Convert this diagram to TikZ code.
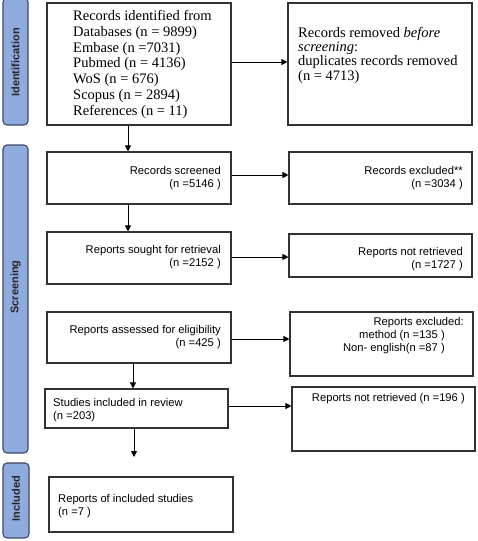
\documentclass[tikz,border=0pt]{standalone}
\usepackage{fontspec}
\setmainfont{Liberation Serif}
\setsansfont{Liberation Sans}
\usetikzlibrary{arrows.meta}
\definecolor{barfill}{RGB}{143,170,220}
\definecolor{barline}{RGB}{60,72,100}
\tikzset{
  box/.style={draw=black!80, line width=1.1pt, rectangle, inner sep=0pt},
  sidebar/.style={draw=barline, line width=1.1pt, fill=barfill, rounded corners=4pt, inner sep=0pt},
  barlabel/.style={font=\sffamily\bfseries\fontsize{11}{13}\selectfont, rotate=90, text=black!85},
  serif/.style={font=\rmfamily\fontsize{14.5}{15.7}\selectfont, inner sep=0pt, align=left},
  sans/.style={font=\sffamily\fontsize{11.2}{13}\selectfont, inner sep=0pt},
  arr/.style={draw=black, line width=1pt, -{Triangle[length=6pt,width=6pt]}},
}
\begin{document}
\begin{tikzpicture}[x=1pt,y=-1pt]
\useasboundingbox (0,0) rectangle (478,541);
% side bars
\node[sidebar, minimum width=25pt, minimum height=127pt] (barI) at (15.5,61.5) {};
\node[barlabel] (labI) at (15.5,62.5) {Identification};
\node[sidebar, minimum width=25pt, minimum height=308pt] (barS) at (15.5,299) {};
\node[barlabel] (labS) at (15.5,287) {Screening};
\node[sidebar, minimum width=26pt, minimum height=75pt] (barC) at (16,500.5) {};
\node[barlabel] (labC) at (16,498.5) {Included};
% boxes
\node[box, minimum width=184pt, minimum height=122pt] (b1) at (139,64) {};
\node[box, minimum width=184pt, minimum height=122pt] (b2) at (380,64) {};
\node[box, minimum width=184pt, minimum height=52pt] (b3) at (139,178) {};
\node[box, minimum width=183pt, minimum height=52pt] (b4) at (380.5,178) {};
\node[box, minimum width=184pt, minimum height=52pt] (b5) at (139,258) {};
\node[box, minimum width=183pt, minimum height=43pt] (b6) at (380.5,255.5) {};
\node[box, minimum width=184pt, minimum height=51pt] (b7) at (139,337.5) {};
\node[box, minimum width=183pt, minimum height=64pt] (b8) at (381.5,344) {};
\node[box, minimum width=183pt, minimum height=39pt] (b9) at (136.5,408.5) {};
\node[box, minimum width=183pt, minimum height=64pt] (b10) at (383.5,419) {};
\node[box, minimum width=184pt, minimum height=55pt] (b11) at (141,504.5) {};
% texts (base anchor = baseline of last line)
\node[serif, anchor=base west] (t1) at (73,115) {Records identified from\\Databases (n = 9899)\\Embase (n =7031)\\Pubmed (n = 4136)\\WoS (n = 676)\\Scopus (n = 2894)\\References (n = 11)};
\node[serif, anchor=base west, font=\rmfamily\fontsize{14.5}{14.4}\selectfont] (t2) at (298,80.2) {Records removed \textit{before}\\\textit{screening}:\\duplicates records removed\\(n = 4713)};
\node[sans, anchor=base east, align=right] (t3) at (221,187.5) {Records screened\\(n =5146 )};
\node[sans, anchor=base east, align=right] (t4) at (463,187.5) {Records excluded**\\(n =3034 )};
\node[sans, anchor=base east, align=right] (t5) at (221,266) {Reports sought for retrieval\\(n =2152 )};
\node[sans, anchor=base east, align=right] (t6) at (463,268) {Reports not retrieved\\(n =1727 )};
\node[sans, anchor=base east, align=right] (t7) at (221,346) {Reports assessed for eligibility\\(n =425 )};
\node[sans, anchor=base east] (t8a) at (464,325) {Reports excluded:};
\node[sans, anchor=base east, align=right] (t8b) at (445,351) {method (n =135 )\\Non- english(n =87 )};
\node[sans, anchor=base west, align=left] (t9) at (53,419.5) {Studies included in review\\(n =203)};
\node[sans, anchor=base east] (t10) at (465,401.5) {Reports not retrieved (n =196 )};
\node[sans, anchor=base west, align=left] (t11) at (58,515) {Reports of included studies\\(n =7 )};
% connectors
\coordinate (endC) at (134,457);
\draw[arr] ([xshift=-11pt]b1.south) -- ([xshift=-11pt]b3.north);
\draw[arr] ([xshift=-11pt]b3.south) -- ([xshift=-11pt]b5.north);
\draw[arr] ([xshift=-6pt]b7.south) -- ([xshift=-6pt]b7.south |- b9.north);
\draw[arr] (b9.south -| endC) -- (endC);
\draw[arr] ([yshift=2pt]b1.east) -- ([yshift=2pt]b1.east -| b2.west);
\draw[arr] ([yshift=3pt]b3.east) -- ([yshift=3pt]b3.east -| b4.west);
\draw[arr] ([yshift=1pt]b5.east) -- ([yshift=1pt]b5.east -| b6.west);
\draw[arr] ([yshift=-1.5pt]b7.east) -- ([yshift=-1.5pt]b7.east -| b8.west);
\draw[arr] ([yshift=2.5pt]b9.east) -- ([yshift=2.5pt]b9.east -| b10.west);
\end{tikzpicture}
\end{document}
